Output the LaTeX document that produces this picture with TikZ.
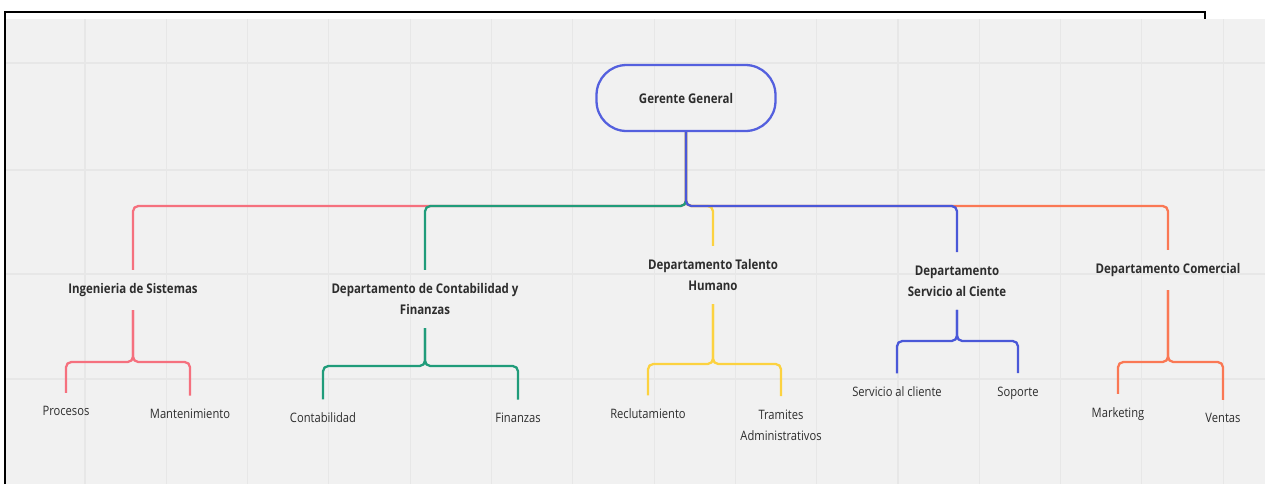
\documentclass[tikz,border=0pt]{standalone}
\usepackage{fontspec}
\setmainfont{Open Sans}
\newfontfamily\orgfont[FakeStretch=0.86]{Open Sans}
\usetikzlibrary{calc}
\definecolor{cCanvas}{RGB}{241, 241, 241}
\definecolor{cGrid}{RGB}{231, 231, 231}
\definecolor{cText}{RGB}{45, 45, 45}
\definecolor{cTop}{RGB}{84, 96, 222}
\definecolor{cRed}{RGB}{245, 112, 126}
\definecolor{cGreen}{RGB}{32, 156, 122}
\definecolor{cYellow}{RGB}{252, 210, 64}
\definecolor{cBlue}{RGB}{74, 88, 216}
\definecolor{cOrange}{RGB}{250, 120, 84}
\tikzset{
    nodeTop/.style={
        draw=cTop,
        line width=1.3pt,
        rounded corners=0.6cm,
        minimum width=3.58cm,
        minimum height=1.32cm,
        text=cText,
        font=\orgfont\bfseries\fontsize{7.6}{12}\selectfont
    },
    nodeDept/.style={
        align=center,
        inner xsep=2pt,
        inner ysep=7.5pt,
        text=cText,
        font=\orgfont\bfseries\fontsize{7.6}{12}\selectfont
    },
    nodeItem/.style={
        align=center,
        inner xsep=2pt,
        inner ysep=7.5pt,
        text=cText,
        font=\orgfont\fontsize{7.4}{12}\selectfont
    },
    edgeOrg/.style={
        line width=1.3pt,
        rounded corners=3pt
    },
    edgeRed/.style={edgeOrg, color=cRed},
    edgeGreen/.style={edgeOrg, color=cGreen},
    edgeYellow/.style={edgeOrg, color=cYellow},
    edgeBlue/.style={edgeOrg, color=cBlue},
    edgeOrange/.style={edgeOrg, color=cOrange},
    gridline/.style={
        cGrid,
        line width=0.6pt
    },
}
\begin{document}
\begin{tikzpicture}[x=0.02cm,y=-0.02cm]
    \useasboundingbox (0,0) rectangle (1265,484);

	\pgfdeclarelayer{background}
	\pgfsetlayers{background,main}

	\begin{pgfonlayer}{background}
		\fill[cCanvas] (6,19) rectangle (1265,484);
		\foreach \k in {0,...,14}
		{
			\draw[gridline] ({85+81.3*\k},19) -- ++(0,465);
		}
		\foreach \y in {63,170,274,379}
		{
			\draw[gridline] (6,\y) -- (1265,\y);
		}
		\draw[black,line width=0.8pt] (5,484) -- (5,12) -- (1205,12) -- (1205,19);
	\end{pgfonlayer}

    \node[nodeTop] (gg) at (686, 98) {Gerente General};

    \node[nodeDept] (ing) at (133, 290) {Ingenieria de Sistemas};
    \node[nodeDept] (cont) at (425, 299) {Departamento de Contabilidad y\\Finanzas};
    \node[nodeDept] (tal) at (713, 275) {Departamento Talento\\Humano};
    \node[nodeDept] (serv) at (957, 281) {Departamento\\Servicio al Ciente};
    \node[nodeDept] (com) at (1168, 270) {Departamento Comercial};

    \node[nodeItem] (proc) at (66, 411) {Procesos};
    \node[nodeItem] (mant) at (190, 414) {Mantenimiento};
    \node[nodeItem] (cnt) at (323, 418) {Contabilidad};
    \node[nodeItem] (fin) at (518, 418) {Finanzas};
    \node[nodeItem] (recl) at (648, 414) {Reclutamiento};
    \node[nodeItem] (tram) at (781, 425) {Tramites\\Administrativos};
    \node[nodeItem] (scli) at (897, 392) {Servicio al cliente};
    \node[nodeItem] (sop) at (1018, 393) {Soporte};
    \node[nodeItem] (mkt) at (1118, 414) {Marketing};
    \node[nodeItem] (vent) at (1223, 418) {Ventas};

    \coordinate (busTop) at (686, 206);
    \coordinate (busIng) at (133, 362);
    \coordinate (busCont) at (425, 366);
    \coordinate (busTal) at (713, 364);
    \coordinate (busServ) at (957, 341);
    \coordinate (busCom) at (1168, 362);

    \draw[edgeRed] (gg.south) |- (ing.north |- busTop) -- (ing.north);
    \draw[edgeOrange] (gg.south) |- (com.north |- busTop) -- (com.north);
    \draw[edgeYellow] (gg.south) |- (tal.north |- busTop) -- (tal.north);
    \draw[edgeGreen] (gg.south) |- (cont.north |- busTop) -- (cont.north);
    \draw[edgeBlue] (gg.south) |- (serv.north |- busTop) -- (serv.north);

    \draw[edgeRed] (ing.south) |- (proc.north |- busIng) -- (proc.north);
    \draw[edgeRed] (ing.south) |- (mant.north |- busIng) -- (mant.north);
    \draw[edgeGreen] (cont.south) |- (cnt.north |- busCont) -- (cnt.north);
    \draw[edgeGreen] (cont.south) |- (fin.north |- busCont) -- (fin.north);
    \draw[edgeYellow] (tal.south) |- (recl.north |- busTal) -- (recl.north);
    \draw[edgeYellow] (tal.south) |- (tram.north |- busTal) -- (tram.north);
    \draw[edgeBlue] (serv.south) |- (scli.north |- busServ) -- (scli.north);
    \draw[edgeBlue] (serv.south) |- (sop.north |- busServ) -- (sop.north);
    \draw[edgeOrange] (com.south) |- (mkt.north |- busCom) -- (mkt.north);
    \draw[edgeOrange] (com.south) |- (vent.north |- busCom) -- (vent.north);
\end{tikzpicture}
\end{document}
